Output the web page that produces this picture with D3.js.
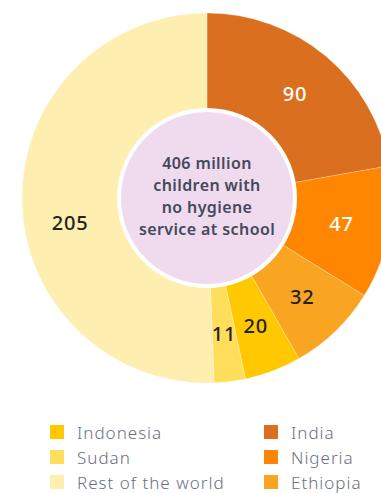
<!DOCTYPE html>
<html><head><meta charset="utf-8">
<script src="https://cdn.jsdelivr.net/npm/d3@7"></script>
<style>
html,body{margin:0;padding:0;background:#fff;}
svg{display:block;}
</style></head>
<body>
<svg id="chart" width="381" height="493"></svg>
<script>
const categories = ["India", "Nigeria", "Ethiopia", "Indonesia", "Sudan", "Rest of the world"];
const values = [90, 47, 32, 20, 11, 205];
const colors = ["#D96F1F", "#FF8600", "#F9A521", "#FFC800", "#FFDE5C", "#FEEEB0"];
const labelColors = ["#ffffff", "#ffffff", "#222222", "#222222", "#222222", "#222222"];
const centerLines = ["406 million", "children with", "no hygiene", "service at school"];
const legendOrder = [["Indonesia", "Sudan", "Rest of the world"], ["India", "Nigeria", "Ethiopia"]];

const svg = d3.select("#chart");
const cx = 207, cy = 198, outerR = 185, labelR = 137;
const font = "'Noto Sans', 'Open Sans', sans-serif";

const data = categories.map((c, i) => ({name: c, value: values[i], color: colors[i], lc: labelColors[i]}));
const pie = d3.pie().value(d => d.value).sort(null);
const arcs = pie(data);
const arc = d3.arc().innerRadius(0).outerRadius(outerR);
const labelArc = d3.arc().innerRadius(labelR).outerRadius(labelR);

const g = svg.append("g").attr("transform", `translate(${cx},${cy})`);
g.selectAll("path.slice").data(arcs).join("path")
  .attr("class", "slice")
  .attr("d", arc)
  .attr("fill", d => d.data.color)
  .attr("stroke", "#fff").attr("stroke-width", 0.4).attr("stroke-opacity", 0.6);

g.selectAll("text.val").data(arcs).join("text")
  .attr("class", "val")
  .attr("transform", d => {
    const [x, y] = labelArc.centroid(d);
    const off = d.data.name === "Rest of the world" ? 22 : 0;
    return `translate(${x},${y + off})`;
  })
  .attr("text-anchor", "middle")
  .attr("dominant-baseline", "central")
  .attr("font-family", font)
  .attr("font-size", 20)
  .attr("font-weight", 500)
  .attr("letter-spacing", 0.8)
  .attr("fill", d => d.data.lc)
  .text(d => d.data.value);

g.append("circle").attr("r", 88).attr("fill", "#F0DAED").attr("stroke", "#fff").attr("stroke-width", 4);

const ct = g.append("text")
  .attr("text-anchor", "middle")
  .attr("font-family", font)
  .attr("font-size", 16)
  .attr("font-weight", 600)
  .attr("letter-spacing", 0.4)
  .attr("fill", "#434a5c");
centerLines.forEach((l, i) => {
  ct.append("tspan").attr("x", 0).attr("y", -35 + i * 22 + 5.5).text(l);
});

const colorOf = Object.fromEntries(categories.map((c, i) => [c, colors[i]]));
const colX = [50, 264], rowY = [432, 457, 482];
legendOrder.forEach((col, ci) => {
  col.forEach((name, ri) => {
    const lg = svg.append("g").attr("transform", `translate(${colX[ci]},${rowY[ri]})`);
    lg.append("rect").attr("x", 0).attr("y", -7).attr("width", 14).attr("height", 14).attr("fill", colorOf[name]);
    lg.append("text").attr("x", 27).attr("y", 0).attr("dominant-baseline", "central")
      .attr("font-family", font).attr("font-size", 17).attr("font-weight", 300)
      .attr("letter-spacing", 1)
      .attr("fill", "#6b7080").text(name);
  });
});
</script>
</body></html>
